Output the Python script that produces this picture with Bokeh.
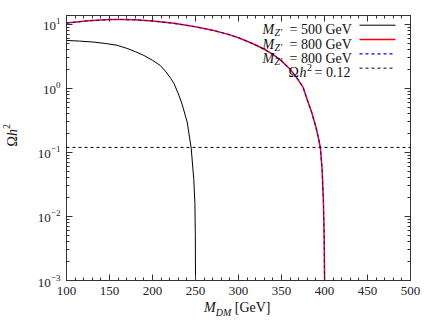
from math import log10
from bokeh.plotting import figure
from bokeh.models import LinearAxis, LogAxis, FixedTicker, Span, Label, Range1d, Div
from bokeh.layouts import row, column
from bokeh.embed import file_html
from bokeh.resources import INLINE

# ---------------- data ----------------
mdm_500 = [100, 115, 131.8, 145, 158.9, 170.5, 180, 190, 200, 209, 215, 221, 225, 230.6, 234.5,
           240.3, 245, 248, 249.3, 249.8, 250]
omega_500 = [5.62, 5.5, 5.3, 5.05, 4.73, 4.22, 3.76, 3.28, 2.75, 2.29, 1.86, 1.45, 1.19, 0.79, 0.56,
             0.30, 0.117, 0.038, 0.016, 0.005, 0.001]

mdm_800 = [100, 125, 150, 165, 180, 200, 225, 250, 270, 288, 300, 317, 330, 340, 350, 360, 368, 375,
           380, 385, 390, 393.4, 395.3, 397.3, 398.7, 399.6, 400.1]
omega_800 = [10.5, 11.4, 11.9, 11.97, 11.8, 11.3, 10.4, 9.2, 8.1, 7.0, 6.2, 5.0, 4.1, 3.4, 2.7, 2.0,
             1.45, 1.05, 0.66, 0.43, 0.25, 0.158, 0.115, 0.052, 0.018, 0.005, 0.001]

mdm_800_b = [100, 125, 150, 165, 180, 200, 225, 250, 270, 288, 300, 317, 330, 340, 350, 360, 368, 375,
             380, 385, 390, 393.4, 395.3, 397.3, 398.7, 399.6, 400.1]
omega_800_b = [10.5, 11.4, 11.9, 11.97, 11.8, 11.3, 10.4, 9.2, 8.1, 7.0, 6.2, 5.0, 4.1, 3.4, 2.7, 2.0,
               1.45, 1.05, 0.66, 0.43, 0.25, 0.158, 0.115, 0.052, 0.018, 0.005, 0.001]

omega_obs = 0.12

x_ticks = [100, 150, 200, 250, 300, 350, 400, 450, 500]
x_minor = list(range(100, 501, 10))
y_ticks = [1e-3, 1e-2, 1e-1, 1, 10]
y_tick_labels = {"0.001": "10⁻³", "0.01": "10⁻²", "0.1": "10⁻¹", "1": "10⁰", "10": "10¹"}
y_minor = [m * 10.0 ** e for e in range(-3, 2) for m in range(1, 10)]

legend_labels = ["500 GeV", "800 GeV", "800 GeV"]

XMIN, XMAX = 100, 500
YMIN, YMAX = 1e-3, 13.8

FONT = "Liberation Serif"
AXC = "#333333"
YLAB_W = 22
W, H = 428 - YLAB_W, 300

p = figure(width=W, height=H, x_range=Range1d(XMIN, XMAX), y_range=Range1d(YMIN, YMAX),
           y_axis_type="log", output_backend="svg", toolbar_location=None,
           min_border_left=66 - YLAB_W, min_border_right=18, min_border_top=15, min_border_bottom=20)
p.grid.visible = False
p.outline_line_color = AXC
p.background_fill_color = "white"
p.border_fill_color = "white"

p.add_layout(LinearAxis(), "above")
p.add_layout(LogAxis(), "right")

for ax in p.xaxis:
    ax.ticker = FixedTicker(ticks=x_ticks, minor_ticks=x_minor)
for ax in p.yaxis:
    ax.ticker = FixedTicker(ticks=y_ticks, minor_ticks=y_minor)
    ax.major_label_overrides = y_tick_labels

for ax in list(p.xaxis) + list(p.yaxis):
    ax.axis_line_color = AXC
    ax.major_tick_line_color = AXC
    ax.minor_tick_line_color = AXC
    ax.major_tick_in = 6
    ax.major_tick_out = 0
    ax.minor_tick_in = 3
    ax.minor_tick_out = 0
    ax.major_label_text_font = FONT
    ax.major_label_text_font_size = "13px"
    ax.major_label_text_color = "#222222"
    ax.major_label_standoff = 6

for ax in p.above + p.right:
    ax.major_label_text_font_size = "1px"
    ax.major_label_text_color = None
    ax.major_label_standoff = 0

# ---------------- curves ----------------
p.line(mdm_500, omega_500, line_color="black", line_width=1)
p.line(mdm_800, omega_800, line_color="#ff0000", line_width=1.5)
p.line(mdm_800_b, omega_800_b, line_color="#0000ff", line_width=1.1, line_dash="3 3")
p.add_layout(Span(location=omega_obs, dimension="width", line_color="black",
                  line_width=1, line_dash="3 3"))

# ---------------- helpers: page pixel -> data (layout only) ----------------
FL, FR, FT, FB = 66, 410, 15.3, 280


def dx(px):
    return XMIN + (px - FL) / (FR - FL) * (XMAX - XMIN)


def dy(py):
    return 10 ** (log10(YMAX) - (py - FT) / (FB - FT) * (log10(YMAX) - log10(YMIN)))


def lab(text, px, py, size="14px", style="normal", align="left", baseline="alphabetic"):
    p.add_layout(Label(x=dx(px), y=dy(py), text=text, text_font=FONT, text_font_size=size,
                       text_font_style=style, text_align=align, text_baseline=baseline,
                       text_color="#111111"))


# ---------------- legend (manual, gnuplot style) ----------------
rows = [25, 39.3, 53.6, 67.9]
styles = [dict(line_color="black", line_width=1),
          dict(line_color="#ff0000", line_width=1.5),
          dict(line_color="#0000ff", line_width=1.1, line_dash="3 3"),
          dict(line_color="black", line_width=1, line_dash="3 3")]
for ry, st in zip(rows, styles):
    p.line([dx(359), dx(395)], [dy(ry), dy(ry)], **st)

for i, txt in enumerate(legend_labels):
    base = rows[i] + 4.5
    lab("M", 262, base, style="italic")
    lab("Z′", 274, base + 3, size="10px", style="italic")
    lab("= " + txt, 289, base)

base = rows[3] + 4.5
lab("Ω", 288, base)
lab("h", 299, base, style="italic")
lab("2", 306.5, base - 5, size="10px")
lab("= 0.12", 314, base)

# ---------------- axis titles (HTML text beside the figure) ----------------
TXT = "font-family:'Liberation Serif'; font-size:14px; color:#111111; white-space:nowrap;"
ylab = Div(width=YLAB_W, height=H, margin=0,
           text=('<div style="' + TXT + 'margin-top:124px; margin-left:5px; line-height:16px;'
                 ' writing-mode:vertical-rl; transform:rotate(180deg);">'
                 'Ω<i>h</i><sup style="font-size:10px; line-height:0;">2</sup></div>'))
xlab = Div(width=W, height=24, margin=0,
           text=('<div style="' + TXT + 'margin-left:' + str(204 - YLAB_W) + 'px; line-height:16px;">'
                 '<i>M</i><sub style="font-size:10px; line-height:0; font-style:italic;">DM</sub>'
                 ' [GeV]</div>'))

layout = row(ylab, column(p, xlab, spacing=0), spacing=0)

open("out.html", "w").write(file_html(layout, INLINE))
